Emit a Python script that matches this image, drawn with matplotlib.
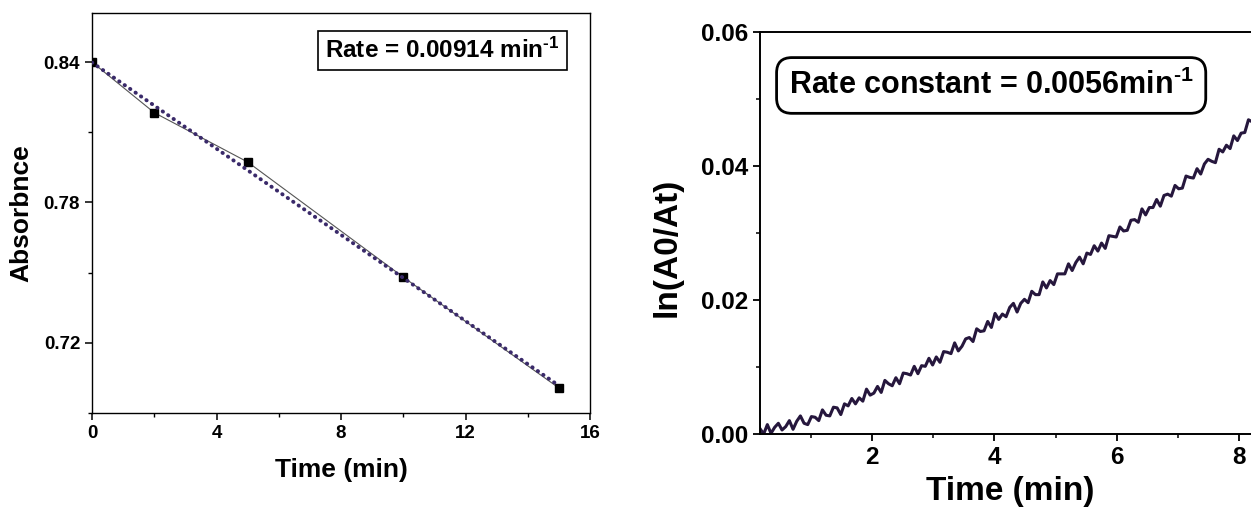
import matplotlib
matplotlib.use('Agg')
from matplotlib import pyplot as plt
from matplotlib.ticker import MultipleLocator
import numpy as np

plt.rcParams['font.family'] = ['Liberation Sans', 'DejaVu Sans']
plt.rcParams['font.weight'] = 'bold'
plt.rcParams['mathtext.fontset'] = 'custom'
plt.rcParams['mathtext.rm'] = 'Liberation Sans:bold'
plt.rcParams['mathtext.bf'] = 'Liberation Sans:bold'
plt.rcParams['mathtext.default'] = 'bf'

# left panel: absorbance vs time
time_pts = [0, 2, 5, 10, 15]
absorb = [0.840, 0.8184, 0.7973, 0.7481, 0.7007]

# right panel: ln(A0/At) trace, sampled every 0.06 min from 0.17 min
t_start = 0.17
t_step = 0.06
ln_ratio = [
    0.0008, 0.0000, 0.0014, 0.0001, 0.0010, 0.0016, 0.0006, 0.0011, 0.0020, 0.0007,
    0.0019, 0.0027, 0.0016, 0.0014, 0.0026, 0.0025, 0.0020, 0.0036, 0.0028, 0.0027,
    0.0040, 0.0039, 0.0029, 0.0045, 0.0042, 0.0053, 0.0045, 0.0054, 0.0049, 0.0067,
    0.0058, 0.0061, 0.0071, 0.0062, 0.0080, 0.0075, 0.0072, 0.0084, 0.0075, 0.0091,
    0.0090, 0.0088, 0.0101, 0.0090, 0.0102, 0.0101, 0.0113, 0.0103, 0.0115, 0.0107,
    0.0123, 0.0122, 0.0120, 0.0136, 0.0124, 0.0131, 0.0142, 0.0144, 0.0138, 0.0157,
    0.0153, 0.0154, 0.0168, 0.0159, 0.0180, 0.0171, 0.0179, 0.0175, 0.0189, 0.0195,
    0.0182, 0.0195, 0.0201, 0.0196, 0.0213, 0.0208, 0.0208, 0.0227, 0.0218, 0.0229,
    0.0223, 0.0239, 0.0239, 0.0239, 0.0254, 0.0244, 0.0256, 0.0264, 0.0254, 0.0270,
    0.0268, 0.0281, 0.0273, 0.0285, 0.0277, 0.0296, 0.0295, 0.0294, 0.0309, 0.0303,
    0.0304, 0.0319, 0.0320, 0.0316, 0.0336, 0.0327, 0.0338, 0.0338, 0.0350, 0.0340,
    0.0356, 0.0358, 0.0355, 0.0371, 0.0366, 0.0367, 0.0385, 0.0383, 0.0382, 0.0396,
    0.0388, 0.0403, 0.0410, 0.0407, 0.0405, 0.0425, 0.0421, 0.0431, 0.0426, 0.0445,
    0.0438, 0.0449, 0.0450, 0.0469, 0.0466,
]
t_trace = t_start + t_step * np.arange(len(ln_ratio))

fig = plt.figure(figsize=(12.51, 5.12), dpi=100)

# ---- left ----
ax1 = fig.add_axes([92/1251, 99/512, 498/1251, 400/512])
ax1.plot(time_pts, absorb, color='#555555', lw=0.8, zorder=2)
ax1.plot(time_pts, absorb, 's', color='black', ms=5.5, zorder=3)
k, b = np.polyfit(time_pts, absorb, 1)
xf = np.array([time_pts[0], time_pts[-1]])
ax1.plot(xf, k*xf + b, color='#3a2a6a', lw=2.8, linestyle=(0, (0.1, 1.6)),
         dash_capstyle='round', zorder=4)
ax1.set_xlim(0, 16)
ax1.set_ylim(0.690, 0.861)
ax1.xaxis.set_major_locator(MultipleLocator(4))
ax1.xaxis.set_minor_locator(MultipleLocator(2))
ax1.set_yticks([0.72, 0.78, 0.84])
ax1.set_yticklabels(['0.72', '0.78', '0.84'])
ax1.yaxis.set_minor_locator(MultipleLocator(0.03))
ax1.tick_params(which='major', direction='out', length=5, width=1.1, labelsize=13.5)
ax1.tick_params(which='minor', direction='out', length=3, width=1.0)
for s in ax1.spines.values():
    s.set_linewidth(1.0)
ax1.set_xlabel('Time (min)', fontsize=19, fontweight='bold')
ax1.set_ylabel('Absorbnce', fontsize=19, fontweight='bold')
ax1.xaxis.set_label_coords(0.5, -0.112)
ax1.yaxis.set_label_coords(-0.118, 0.5)
ax1.text(0.704, 0.906, r'Rate = 0.00914 min$^{\text{-1}}$', transform=ax1.transAxes,
         ha='center', va='center', fontsize=17.5, fontweight='bold',
         bbox=dict(boxstyle='square,pad=0.3', fc='white', ec='black', lw=1.2))

# ---- right ----
ax2 = fig.add_axes([760/1251, 78/512, 516/1251, 402/512])
ax2.plot(t_trace, ln_ratio, color='#26173d', lw=2.2)
ax2.set_xlim(0.17, 8.6)
ax2.set_ylim(0, 0.06)
ax2.xaxis.set_major_locator(MultipleLocator(2))
ax2.xaxis.set_minor_locator(MultipleLocator(1))
ax2.set_yticks([0.0, 0.02, 0.04, 0.06])
ax2.set_yticklabels(['0.00', '0.02', '0.04', '0.06'])
ax2.yaxis.set_minor_locator(MultipleLocator(0.01))
ax2.tick_params(which='major', direction='out', length=5, width=1.3, labelsize=17.5)
ax2.tick_params(which='minor', direction='out', length=3, width=1.1)
for s in ax2.spines.values():
    s.set_linewidth(1.4)
ax2.set_xlabel('Time (min)', fontsize=24, fontweight='bold')
ax2.set_ylabel('ln(A0/At)', fontsize=24, fontweight='bold')
ax2.xaxis.set_label_coords(0.4845, -0.104)
ax2.yaxis.set_label_coords(-0.149, 0.463)
ax2.text(0.448, 0.867, r'Rate constant = 0.0056min$^{\text{-1}}$', transform=ax2.transAxes,
         ha='center', va='center', fontsize=22, fontweight='bold',
         bbox=dict(boxstyle='round,pad=0.4,rounding_size=0.5', fc='white',
                   ec='black', lw=2.0))

fig.savefig('out.png', dpi=100)
